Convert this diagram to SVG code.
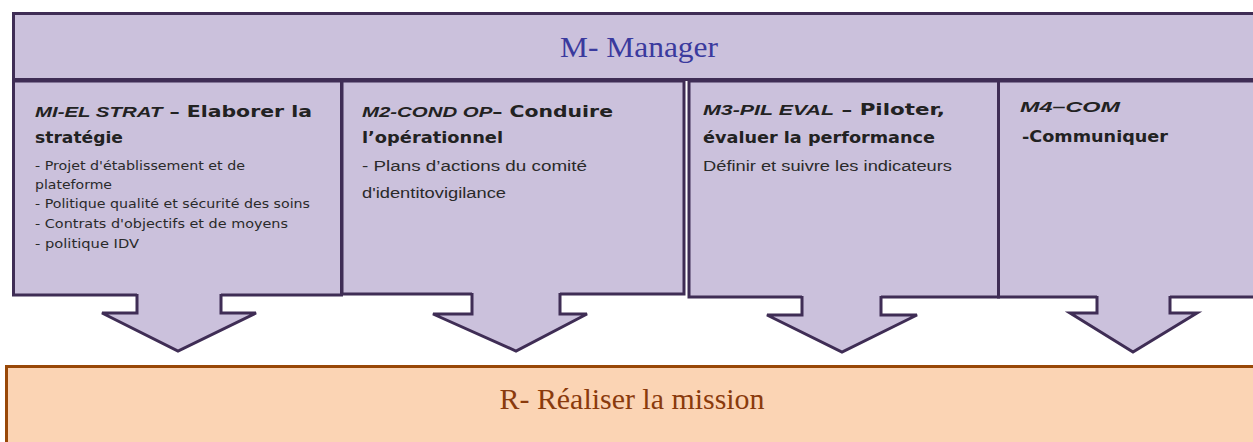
<svg xmlns="http://www.w3.org/2000/svg" width="1253" height="442" viewBox="0 0 1253 442">
<style>
.box{fill:#cbc1dc;stroke:#3f2d55;stroke-width:3}
.afill{fill:#cbc1dc;stroke:none}
.aline{fill:none;stroke:#3f2d55;stroke-width:3;stroke-linejoin:miter}
.ttl{font-family:"DejaVu Sans",Verdana,sans-serif;font-weight:bold;font-size:15.5px;fill:#222222}
.code{font-family:"Liberation Sans",Arial,sans-serif;font-style:italic;font-weight:bold}
.sub1{font-family:"DejaVu Sans",Verdana,sans-serif;font-size:11.5px;fill:#2a2a2a}
.sub2{font-family:"Liberation Sans",Arial,sans-serif;font-size:14px;fill:#2a2a2a}
.head{font-family:"Liberation Serif","Times New Roman",serif;font-size:29px;text-anchor:middle}
</style>
<g id="manager">
<rect class="box" x="13.5" y="13.5" width="1260" height="66"/>
<text class="head" x="639" y="57" fill="#3a3a9e" textLength="158" lengthAdjust="spacingAndGlyphs">M- Manager</text>
</g>
<g id="m1">
<rect class="box" x="13.5" y="81" width="328" height="214"/>
<text class="ttl" x="35" y="117" textLength="277" lengthAdjust="spacingAndGlyphs"><tspan class="code">MI-EL STRAT</tspan> – Elaborer la</text>
<text class="ttl" x="35" y="143" textLength="88" lengthAdjust="spacingAndGlyphs">stratégie</text>
<text class="sub1" x="35" y="170" textLength="210" lengthAdjust="spacingAndGlyphs">- Projet d'établissement et de</text>
<text class="sub1" x="35" y="189" textLength="77" lengthAdjust="spacingAndGlyphs">plateforme</text>
<text class="sub1" x="35" y="208" textLength="275" lengthAdjust="spacingAndGlyphs">- Politique qualité et sécurité des soins</text>
<text class="sub1" x="35" y="228" textLength="253" lengthAdjust="spacingAndGlyphs">- Contrats d'objectifs et de moyens</text>
<text class="sub1" x="35" y="248" textLength="104" lengthAdjust="spacingAndGlyphs">- politique IDV</text>
</g>
<g id="m2">
<rect class="box" x="342" y="81" width="342" height="213"/>
<text class="ttl" x="362" y="117" textLength="251" lengthAdjust="spacingAndGlyphs"><tspan class="code">M2-COND OP</tspan>– Conduire</text>
<text class="ttl" x="362" y="143" textLength="141" lengthAdjust="spacingAndGlyphs">l’opérationnel</text>
<text class="sub2" x="362" y="171" textLength="225" lengthAdjust="spacingAndGlyphs">- Plans d’actions du comité</text>
<text class="sub2" x="362" y="198" textLength="144" lengthAdjust="spacingAndGlyphs">d'identitovigilance</text>
</g>
<g id="m3">
<rect class="box" x="689" y="81" width="309.5" height="216"/>
<text class="ttl" x="703" y="115" textLength="242" lengthAdjust="spacingAndGlyphs"><tspan class="code">M3-PIL EVAL</tspan>  – Piloter,</text>
<text class="ttl" x="703" y="143" textLength="232" lengthAdjust="spacingAndGlyphs">évaluer la performance</text>
<text class="sub2" x="703" y="171" textLength="249" lengthAdjust="spacingAndGlyphs">Définir et suivre les indicateurs</text>
</g>
<g id="m4">
<rect class="box" x="998.5" y="81" width="270" height="216"/>
<text class="ttl" x="1020" y="112" textLength="100" lengthAdjust="spacingAndGlyphs"><tspan class="code">M4–COM</tspan></text>
<text class="ttl" x="1022" y="142" textLength="146" lengthAdjust="spacingAndGlyphs">-Communiquer</text>
</g>
<g id="connectors">
<polygon class="afill" points="137,292 137,313 102,313 178,351 256,313 221,313 221,292"/>
<path class="aline" d="M137,294 V313 H102 L178,351 L256,313 H221 V294"/>
<polygon class="afill" points="472,291 472,314 433,314 516,351 587,314 560,314 560,291"/>
<path class="aline" d="M472,293 V314 H433 L516,351 L587,314 H560 V293"/>
<polygon class="afill" points="802,294 802,315 767,315 842,352 917,315 881,315 881,294"/>
<path class="aline" d="M802,296 V315 H767 L842,352 L917,315 H881 V296"/>
<polygon class="afill" points="1097,294 1097,313 1070,313 1133,352 1197,313 1170,313 1170,294"/>
<path class="aline" d="M1097,296 V313 H1070 L1133,352 L1197,313 H1170 V296"/>
</g>
<g id="realiser">
<rect x="6.5" y="366.5" width="1260" height="90" fill="#fbd4b4" stroke="#984807" stroke-width="3"/>
<text class="head" x="632" y="409" fill="#8a3a0c" textLength="265" lengthAdjust="spacingAndGlyphs">R- Réaliser la mission</text>
</g>
</svg>
